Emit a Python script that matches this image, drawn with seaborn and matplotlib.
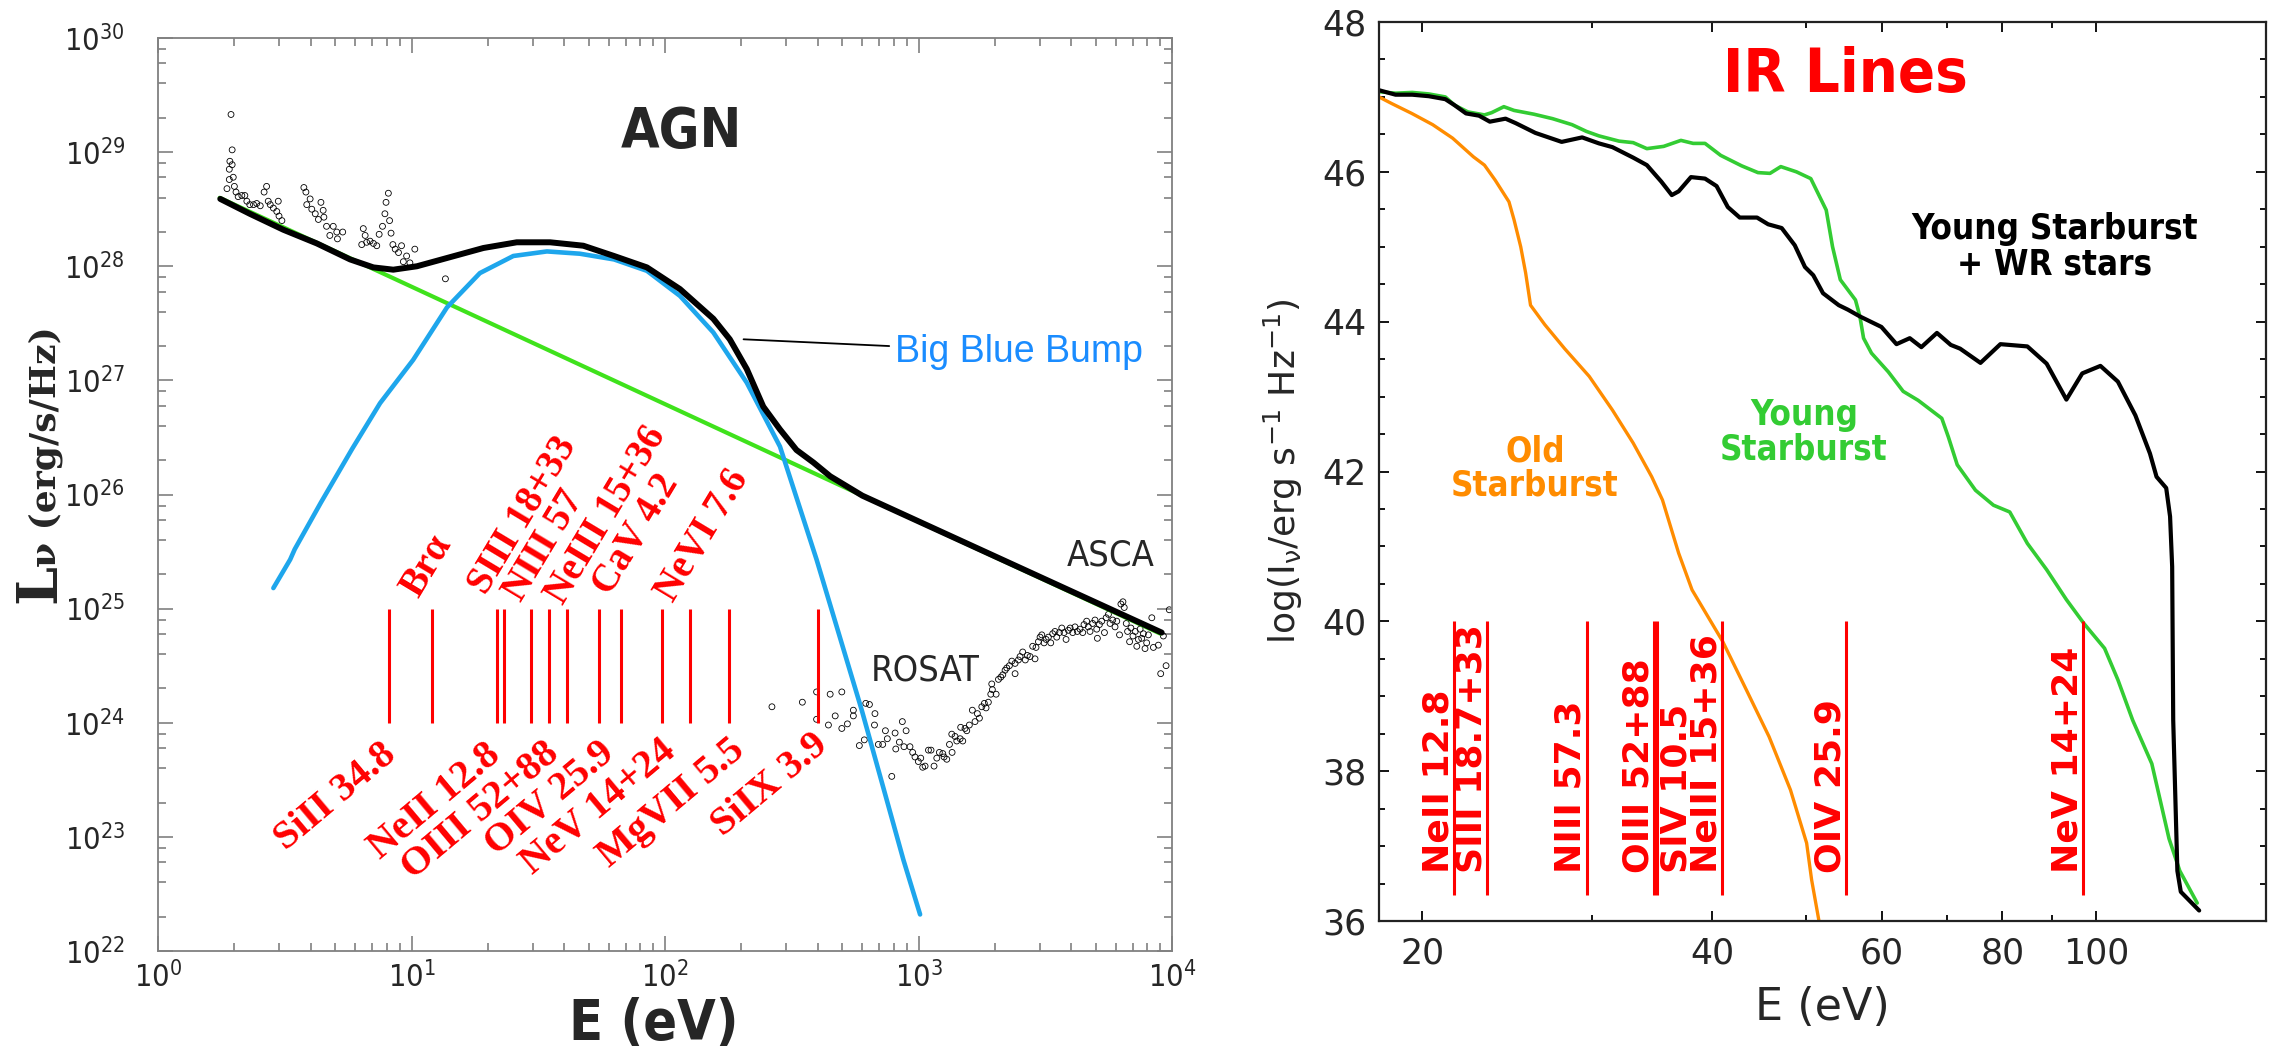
import matplotlib
matplotlib.use("Agg")
import matplotlib.pyplot as plt
import matplotlib.ticker as mticker
import numpy as np
import seaborn as sns
from matplotlib import font_manager

# ---------------- AGN panel data (E in eV, log10 L_nu) ----------------
pl_E = [1.75, 9000]
pl_logL = [28.60, 24.78]

bump_E = [2.85, 3.32, 3.46, 4.39, 5.83, 7.51, 10.15, 13.8, 18.6, 25.2, 34.2, 46.1, 62.9,
          84.8, 114.5, 155, 210, 284, 396, 597, 871, 1014]
bump_logL = [25.18, 25.43, 25.52, 25.93, 26.40, 26.80, 27.18, 27.64, 27.94, 28.09, 28.13, 28.11, 28.06,
             27.96, 27.74, 27.42, 26.98, 26.42, 25.43, 24.11, 22.80, 22.32]

tot_E = [1.76, 2.30, 3.12, 4.23, 5.72, 7.07, 8.47, 10.5, 14.2, 19.2, 26.0, 35.2, 47.6,
         62.9, 84.8, 114.5, 155, 180, 210, 244, 284, 330, 385, 448, 600, 9100]
tot_logL = [28.59, 28.46, 28.32, 28.20, 28.06, 27.99, 27.97, 28.00, 28.08, 28.16, 28.21, 28.21, 28.18,
            28.09, 27.99, 27.80, 27.54, 27.36, 27.10, 26.77, 26.57, 26.39, 26.28, 26.16, 25.99, 24.79]

opt_E = [1.94, 1.96, 1.92, 1.96, 1.91, 1.98, 1.91, 1.87, 2.00, 2.03,
         2.07, 2.14, 2.20, 2.24, 2.30, 2.38, 2.45, 2.53, 2.68, 2.62,
         2.72, 2.77, 2.85, 2.98, 2.94, 3.00, 3.08, 3.76, 3.83, 3.86,
         3.98, 4.04, 4.17, 4.29, 4.39, 4.48, 4.51, 4.62, 4.76, 4.91,
         5.07, 5.10, 5.35, 6.45, 6.56, 6.36, 6.65, 6.86, 7.07, 7.29,
         7.45, 7.68, 7.85, 7.93, 8.10, 8.19, 8.30, 8.44, 8.62, 8.88,
         9.13, 9.28, 9.56, 9.85, 10.3, 13.6]
opt_logL = [29.33, 29.02, 28.92, 28.89, 28.85, 28.78, 28.76, 28.68, 28.70, 28.65,
            28.61, 28.62, 28.62, 28.57, 28.54, 28.54, 28.55, 28.53, 28.70, 28.65,
            28.57, 28.54, 28.51, 28.57, 28.48, 28.44, 28.40, 28.69, 28.65, 28.54,
            28.59, 28.50, 28.46, 28.41, 28.56, 28.49, 28.43, 28.35, 28.27, 28.35,
            28.30, 28.24, 28.30, 28.33, 28.27, 28.19, 28.21, 28.22, 28.20, 28.18,
            28.28, 28.35, 28.46, 28.56, 28.64, 28.40, 28.29, 28.19, 28.15, 28.12,
            28.18, 28.04, 28.09, 28.03, 28.15, 27.89]

xray_E = [264, 348, 396, 396, 441, 448, 469, 498, 498, 524,
          553, 553, 584, 611, 619, 640, 673, 670, 694, 722,
          740, 753, 784, 808, 813, 840, 863, 876, 893, 925,
          948, 968, 998, 1020, 1038, 1061, 1094, 1120, 1151, 1180,
          1208, 1246, 1261, 1292, 1324, 1356, 1352, 1393, 1415, 1459,
          1494, 1466, 1525, 1549, 1586, 1630, 1670, 1706, 1738, 1776,
          1818, 1846, 1885, 1927, 1955, 1944, 2023, 2066, 2111, 2149,
          2194, 2228, 2282, 2333, 2403, 2403, 2477, 2514, 2575, 2637,
          2686, 2753, 2820, 2880, 2906, 2970, 3015, 3062, 3127, 3185,
          3252, 3322, 3381, 3452, 3508, 3595, 3672, 3749, 3818, 3899,
          3963, 4057, 4142, 4229, 4334, 4442, 4494, 4603, 4672, 4747,
          4862, 4966, 5044, 5075, 5168, 5280, 5411, 5495, 5611, 5694,
          5834, 5957, 6051, 6205, 6283, 6400, 6476, 6597, 6676, 6800,
          6880, 7010, 7155, 7260, 7366, 7480, 7590, 7708, 7822, 7940,
          8063, 8320, 8440, 8830, 9020, 9240, 9470, 9750]
xray_logL = [24.14, 24.18, 24.27, 24.03, 23.98, 24.25, 24.06, 24.27, 23.95, 23.99,
             24.11, 24.06, 23.80, 23.85, 24.17, 24.16, 24.08, 23.98, 23.81, 23.81,
             23.93, 23.86, 23.53, 23.91, 23.77, 23.83, 24.01, 23.79, 23.93, 23.79,
             23.74, 23.70, 23.66, 23.69, 23.61, 23.62, 23.76, 23.76, 23.62, 23.69,
             23.74, 23.73, 23.70, 23.68, 23.81, 23.74, 23.90, 23.88, 23.84, 23.86,
             23.84, 23.96, 23.95, 23.93, 23.98, 24.11, 24.01, 24.08, 24.04, 24.14,
             24.17, 24.13, 24.18, 24.25, 24.29, 24.34, 24.25, 24.38, 24.40, 24.42,
             24.46, 24.48, 24.50, 24.54, 24.43, 24.52, 24.55, 24.58, 24.62, 24.55,
             24.59, 24.58, 24.67, 24.56, 24.66, 24.71, 24.75, 24.77, 24.70, 24.73,
             24.75, 24.70, 24.78, 24.80, 24.75, 24.79, 24.83, 24.79, 24.73, 24.81,
             24.83, 24.79, 24.84, 24.80, 24.82, 24.79, 24.86, 24.89, 24.84, 24.80,
             24.87, 24.90, 24.82, 24.74, 24.86, 24.89, 24.79, 24.92, 24.95, 24.87,
             24.90, 24.84, 24.89, 24.77, 25.04, 25.06, 25.01, 24.87, 24.80, 24.71,
             24.83, 24.76, 24.80, 24.67, 24.73, 24.82, 24.74, 24.78, 24.65, 24.70,
             24.77, 24.92, 24.66, 24.68, 24.43, 24.76, 24.50, 24.99]

top_E = [12.08, 23.2, 29.6, 41.0, 67.2, 125.7]
top_lab = ["Brα", "SIII 18+33", "NIII 57", "NeIII 15+36", "CaV 4.2", "NeVI 7.6"]
bot_E = [8.17, 21.66, 34.7, 54.9, 97.2, 179, 401]
bot_lab = ["SiII 34.8", "NeII 12.8", "OIII 52+88", "OIV 25.9", "NeV 14+24", "MgVII 5.5", "SiIX 3.9"]

# ---------------- IR panel data (E in eV, log I_nu) ----------------
old_E = [18.03, 18.6, 19.5, 20.5, 21.5, 22.6, 23.2, 23.8, 24.6, 24.9, 25.3, 25.6, 25.9,
         26.8, 28.1, 29.8, 31.5, 33.1, 34.6, 35.5, 36.9, 38.1, 41.0, 43.4, 45.8, 48.2,
         50.1, 50.7, 51.6]
old_val = [47.0, 46.91, 46.78, 46.63, 46.45, 46.20, 46.09, 45.89, 45.60, 45.36, 45.0, 44.65, 44.22,
           43.96, 43.64, 43.27, 42.82, 42.38, 41.93, 41.62, 40.91, 40.42, 39.73, 39.08, 38.46, 37.75,
           37.04, 36.55, 36.0]

young_E = [18.03, 18.76, 19.52, 20.31, 21.13, 21.6, 22.3, 23.2, 23.6, 24.3, 24.9, 26.1, 27.3,
           28.6, 29.6, 30.5, 32.0, 33.1, 34.2, 35.6, 37.1, 38.2, 39.3, 40.8, 42.9, 44.6,
           45.9, 47.1, 48.9, 50.6, 52.5, 53.3, 54.3, 56.3, 56.9, 57.4, 58.5, 60.9, 63.1,
           65.4, 69.2, 70.3, 71.8, 75.0, 78.3, 81.4, 84.9, 88.9, 93.2, 97.2, 102.1, 105.4,
           109.2, 114.3, 119.1, 122.2, 127.4]
young_val = [47.07, 47.05, 47.06, 47.04, 47.0, 46.89, 46.80, 46.76, 46.79, 46.87, 46.82, 46.77, 46.71,
             46.63, 46.54, 46.48, 46.41, 46.39, 46.31, 46.34, 46.42, 46.38, 46.38, 46.22, 46.08, 45.99,
             45.98, 46.07, 46.0, 45.91, 45.49, 45.0, 44.56, 44.29, 44.07, 43.78, 43.58, 43.33, 43.07,
             42.95, 42.71, 42.46, 42.09, 41.75, 41.55, 41.46, 41.04, 40.69, 40.29, 39.97, 39.64, 39.22,
             38.68, 38.10, 37.10, 36.67, 36.24]

wr_E = [18.03, 18.76, 19.52, 20.31, 21.13, 21.6, 22.2, 22.9, 23.5, 24.4, 25.0, 26.2, 27.9,
        29.3, 30.5, 31.5, 33.1, 34.2, 35.4, 36.3, 36.9, 38.0, 39.3, 40.4, 41.5, 42.7,
        44.5, 45.7, 47.2, 48.7, 49.9, 50.9, 52.1, 54.1, 55.3, 56.9, 59.9, 62.1, 64.1,
        65.9, 68.4, 70.7, 72.3, 75.9, 79.6, 84.9, 88.9, 93.2, 96.8, 101.1, 105.4, 109.9,
        113.8, 115.6, 118.3, 119.4, 120.0, 120.3, 121.5, 122.5, 128]
wr_val = [47.09, 47.03, 47.03, 47.01, 46.97, 46.89, 46.78, 46.75, 46.67, 46.71, 46.65, 46.52, 46.40,
          46.46, 46.38, 46.33, 46.19, 46.09, 45.87, 45.69, 45.74, 45.93, 45.91, 45.81, 45.53, 45.39,
          45.39, 45.30, 45.25, 45.02, 44.73, 44.62, 44.38, 44.22, 44.16, 44.07, 43.93, 43.70, 43.78,
          43.66, 43.85, 43.69, 43.64, 43.45, 43.70, 43.67, 43.44, 42.96, 43.31, 43.41, 43.20, 42.75,
          42.24, 41.93, 41.78, 41.40, 40.73, 38.68, 36.67, 36.39, 36.14]

ir_E = [21.56, 23.36, 29.61, 34.79, 35.06, 40.96, 54.99, 97.06]
ir_lab = ["NeII 12.8", "SIII 18.7+33", "NIII 57.3", "OIII 52+88", "SIV 10.5",
          "NeIII 15+36", "OIV 25.9", "NeV 14+24"]

ir_xticks = [20, 40, 60, 80, 100]
ir_xminor = [30, 50, 70, 90]

# ---------------- style ----------------
sns.set_theme(style="ticks")
fonts = font_manager.fontManager.ttflist
installed = {f.name for f in fonts}
if "Liberation Sans Narrow" in installed:
    narrow, stretch = "Liberation Sans Narrow", "normal"
elif any(f.name == "DejaVu Sans" and f.stretch == "condensed" for f in fonts):
    narrow, stretch = "DejaVu Sans", "condensed"
else:
    narrow, stretch = "Liberation Sans", "normal"
plt.rcParams["font.family"] = ["DejaVu Sans"]
plt.rcParams["mathtext.default"] = "regular"

cond = dict(family=narrow, fontstretch=stretch)
serif_red = dict(color="red", fontweight="bold", family="Liberation Serif")
# hand placement of the rotated line names (points, relative to the line ends)
top_off = [(-10, 7), (-13, 9), (-7, 4), (-3, 2), (-8, 9), (-12, 4)]
bot_off = [(6, -25), (4, -25), (9, -24), (12, -24), (11, -22), (12, -22), (8, -18)]


def lum(v):
    return 10.0 ** np.asarray(v)


fig = plt.figure(figsize=(22.71, 10.59), dpi=100)
ax1 = fig.add_axes([0.0696, 0.1020, 0.4465, 0.8621])
ax2 = fig.add_axes([0.6072, 0.1303, 0.3904, 0.8489])

# ================= left: AGN =================
ax1.set_xscale("log")
ax1.set_yscale("log")
line_kw = dict(sort=False, estimator=None, legend=False)
sns.lineplot(x=pl_E, y=lum(pl_logL), ax=ax1, color="#3fe21c", lw=3.0, **line_kw)
sns.lineplot(x=bump_E, y=lum(bump_logL), ax=ax1, color="#1ea6ec", lw=3.3, **line_kw)
sns.lineplot(x=tot_E, y=lum(tot_logL), ax=ax1, color="black", lw=4.3, **line_kw)
sns.scatterplot(x=opt_E, y=lum(opt_logL), ax=ax1, marker="o", s=18,
                facecolor="none", edgecolor="black", linewidth=0.6, legend=False)
sns.scatterplot(x=xray_E, y=lum(xray_logL), ax=ax1, marker="o", s=18,
                facecolor="none", edgecolor="black", linewidth=0.6, legend=False)

ax1.vlines(top_E + bot_E, 1e24, 1e25, color="red", lw=2.2)
for e, lbl, off in zip(top_E, top_lab, top_off):
    ax1.annotate(lbl, xy=(e, 1e25), xytext=off, textcoords="offset points",
                 rotation=59, rotation_mode="anchor", ha="left", va="baseline",
                 fontsize=28, **serif_red)
for e, lbl, off in zip(bot_E, bot_lab, bot_off):
    ax1.annotate(lbl, xy=(e, 1e24), xytext=off, textcoords="offset points",
                 rotation=40, rotation_mode="anchor", ha="right", va="baseline",
                 fontsize=29, **serif_red)

ax1.set_xlim(1, 1e4)
ax1.set_ylim(1e22, 1e30)
ax1.xaxis.set_major_locator(mticker.LogLocator(base=10, numticks=12))
ax1.xaxis.set_minor_locator(mticker.LogLocator(base=10, subs=np.arange(2, 10), numticks=12))
ax1.yaxis.set_major_locator(mticker.LogLocator(base=10, numticks=12))
ax1.yaxis.set_minor_locator(mticker.LogLocator(base=10, subs=(2, 4, 6, 8), numticks=12))
ax1.xaxis.set_minor_formatter(mticker.NullFormatter())
ax1.yaxis.set_minor_formatter(mticker.NullFormatter())
ax1.tick_params(which="both", direction="in", top=True, right=True, color="#808080", width=1.2)
ax1.tick_params(which="major", length=11)
ax1.tick_params(which="minor", length=6)
ax1.tick_params(axis="y", which="major", labelsize=22, pad=24)
ax1.tick_params(axis="x", which="major", labelsize=22, pad=7)
for lab in ax1.get_xticklabels() + ax1.get_yticklabels():
    lab.set_family(narrow)
    lab.set_fontstretch(stretch)
for s in ax1.spines.values():
    s.set_color("#808080")
    s.set_linewidth(1.3)

ax1.text(0.516, 0.8975, "AGN", transform=ax1.transAxes, ha="center", va="center",
         fontsize=40, fontweight="bold", **cond)
ax1.annotate("Big Blue Bump", xy=(204, 10 ** 27.36), xytext=(0.727, 0.656),
             textcoords="axes fraction", ha="left", va="center", color="#1a8cff",
             fontsize=27, family="Liberation Sans",
             arrowprops=dict(arrowstyle="-", color="black", lw=1.3, shrinkA=2, shrinkB=0))
ax1.text(0.7564, 0.3077, "ROSAT", transform=ax1.transAxes, ha="center", va="center",
         fontsize=26, **cond)
ax1.text(0.9398, 0.4337, "ASCA", transform=ax1.transAxes, ha="center", va="center",
         fontsize=26, **cond)

ax1.set_xlabel("E (eV)", fontsize=40, fontweight="bold", **cond)
ax1.xaxis.set_label_coords(0.489, -0.05)
fig.text(0.0245, 0.4306, "L", rotation=90, rotation_mode="anchor", ha="left", va="baseline",
         fontsize=40, fontweight="bold", family="DejaVu Serif")
fig.text(0.0245, 0.4646, "ν (erg/s/Hz)", rotation=90, rotation_mode="anchor", ha="left",
         va="baseline", fontsize=26, fontweight="bold", family="DejaVu Serif")

# ================= right: IR lines =================
ax2.set_xscale("log")
sns.lineplot(x=old_E, y=old_val, ax=ax2, color="#ff8c00", lw=2.4, **line_kw)
sns.lineplot(x=young_E, y=young_val, ax=ax2, color="#33cc33", lw=2.6, **line_kw)
sns.lineplot(x=wr_E, y=wr_val, ax=ax2, color="black", lw=3.0, **line_kw)

ax2.vlines(ir_E, 36.35, 40.0, color="red", lw=2.2)
for e, lbl in zip(ir_E, ir_lab):
    dx = 21 if lbl.startswith("SIV") else -4
    ax2.annotate(lbl, xy=(e, 36.64), xytext=(dx, 0), textcoords="offset points",
                 rotation=90, rotation_mode="anchor", ha="left", va="baseline",
                 color="red", fontsize=26, fontweight="bold", family="DejaVu Sans")

ax2.set_xlim(18.03, 150)
ax2.set_ylim(36, 48)
ax2.xaxis.set_major_locator(mticker.FixedLocator(ir_xticks))
ax2.xaxis.set_major_formatter(mticker.FixedFormatter([str(t) for t in ir_xticks]))
ax2.xaxis.set_minor_locator(mticker.FixedLocator(ir_xminor))
ax2.xaxis.set_minor_formatter(mticker.NullFormatter())
ax2.yaxis.set_major_locator(mticker.MultipleLocator(2))
ax2.yaxis.set_minor_locator(mticker.MultipleLocator(0.5))
ax2.tick_params(which="both", direction="in", top=True, right=True, color="black", width=1.3)
ax2.tick_params(which="major", length=7)
ax2.tick_params(which="minor", length=4)
ax2.tick_params(axis="both", which="major", labelsize=25)
ax2.tick_params(axis="y", pad=9)
ax2.tick_params(axis="x", pad=11)
for s in ax2.spines.values():
    s.set_color("#222222")
    s.set_linewidth(1.6)

ax2.text(0.5256, 0.940, "IR Lines", transform=ax2.transAxes, ha="center", va="center",
         color="red", fontsize=44, fontweight="bold", **cond)
ax2.text(0.7625, 0.7497, "Young Starburst\n+ WR stars", transform=ax2.transAxes,
         ha="center", va="center", multialignment="center", linespacing=1.05,
         color="black", fontsize=25, fontweight="bold", **cond)
ax2.text(0.4794, 0.5439, "Young\nStarburst", transform=ax2.transAxes,
         ha="center", va="center", multialignment="center", linespacing=1.0,
         color="#33cc33", fontsize=25, fontweight="bold", **cond)
ax2.text(0.176, 0.5039, "Old\nStarburst", transform=ax2.transAxes,
         ha="center", va="center", multialignment="center", linespacing=1.0,
         color="#ff8c00", fontsize=25, fontweight="bold", **cond)

ax2.set_xlabel("E (eV)", fontsize=32)
ax2.xaxis.set_label_coords(0.5, -0.072)
ax2.set_ylabel(r"log(I$_\nu$/erg s$^{-1}$ Hz$^{-1}$)", fontsize=26)
ax2.yaxis.set_label_coords(-0.083, 0.5)

fig.savefig("out.png", dpi=100)
